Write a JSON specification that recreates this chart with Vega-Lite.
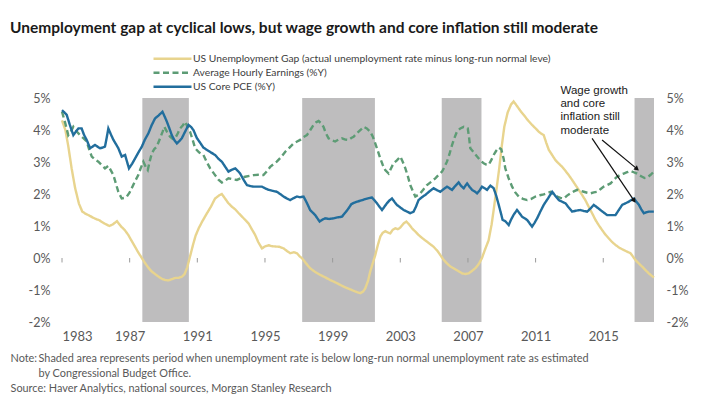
{
  "$schema": "https://vega.github.io/schema/vega-lite/v6.json",
  "width": 592,
  "height": 224,
  "autosize": {"type": "none"},
  "padding": {"left": 62, "top": 98, "right": 50, "bottom": 77},
  "background": "white",
  "title": {
    "text": "Unemployment gap at cyclical lows, but wage growth and core inflation still moderate",
    "anchor": "start",
    "frame": "group",
    "dx": -52,
    "offset": 16,
    "font": "Lato",
    "fontSize": 15.5,
    "fontWeight": "bold",
    "color": "#1a1a1a"
  },
  "config": {
    "view": {"stroke": null},
    "legend": {
      "orient": "none",
      "legendX": 90,
      "legendY": -46,
      "direction": "vertical",
      "symbolType": "stroke",
      "symbolSize": 1444,
      "symbolStrokeWidth": 2.5,
      "labelFont": "Lato",
      "labelFontSize": 10.3,
      "labelColor": "#404040",
      "labelOffset": 0,
      "rowPadding": 0,
      "clipHeight": 13.5,
      "title": null,
      "labelLimit": 500
    }
  },
  "datasets": {
    "bands": [
      {"s": 1987.75, "e": 1990.5},
      {"s": 1997.2, "e": 2001.5},
      {"s": 2005.45, "e": 2007.8},
      {"s": 2016.85, "e": 2018.0}
    ],
    "ticks": [
      {"t": 1983}, {"t": 1987}, {"t": 1991}, {"t": 1995}, {"t": 1999},
      {"t": 2003}, {"t": 2007}, {"t": 2011}, {"t": 2015}
    ],
    "arrows": [
      {"id": 1, "x": 2014.93, "y": 3.69, "x2": 2016.96, "y2": 2.8},
      {"id": 2, "x": 2014.34, "y": 3.74, "x2": 2016.8, "y2": 1.81}
    ],
    "note": [
      {"t": 2012.47, "v": 5.42, "txt": ["Wage growth", "and core", "inflation still", "moderate"]}
    ],
    "series": [
      {"s":"gap","t":1983.0,"v":4.3},{"s":"gap","t":1983.2,"v":4.0},{"s":"gap","t":1983.37,"v":3.5},{"s":"gap","t":1983.57,"v":2.8},
      {"s":"gap","t":1983.77,"v":2.2},{"s":"gap","t":1984.0,"v":1.7},{"s":"gap","t":1984.2,"v":1.45},{"s":"gap","t":1984.4,"v":1.38},
      {"s":"gap","t":1984.6,"v":1.33},{"s":"gap","t":1984.8,"v":1.27},{"s":"gap","t":1985.0,"v":1.22},{"s":"gap","t":1985.2,"v":1.18},
      {"s":"gap","t":1985.5,"v":1.08},{"s":"gap","t":1985.8,"v":1.0},{"s":"gap","t":1986.0,"v":1.05},{"s":"gap","t":1986.25,"v":1.15},
      {"s":"gap","t":1986.5,"v":0.98},{"s":"gap","t":1986.7,"v":0.88},{"s":"gap","t":1986.92,"v":0.72},{"s":"gap","t":1987.1,"v":0.55},
      {"s":"gap","t":1987.32,"v":0.35},{"s":"gap","t":1987.5,"v":0.18},{"s":"gap","t":1987.72,"v":0.0},{"s":"gap","t":1987.9,"v":-0.15},
      {"s":"gap","t":1988.1,"v":-0.3},{"s":"gap","t":1988.3,"v":-0.42},{"s":"gap","t":1988.5,"v":-0.5},{"s":"gap","t":1988.7,"v":-0.58},
      {"s":"gap","t":1988.9,"v":-0.65},{"s":"gap","t":1989.1,"v":-0.69},{"s":"gap","t":1989.3,"v":-0.7},{"s":"gap","t":1989.5,"v":-0.66},
      {"s":"gap","t":1989.7,"v":-0.62},{"s":"gap","t":1989.9,"v":-0.62},{"s":"gap","t":1990.1,"v":-0.58},{"s":"gap","t":1990.25,"v":-0.5},
      {"s":"gap","t":1990.4,"v":-0.3},{"s":"gap","t":1990.57,"v":0.05},{"s":"gap","t":1990.75,"v":0.42},{"s":"gap","t":1990.9,"v":0.7},
      {"s":"gap","t":1991.1,"v":0.95},{"s":"gap","t":1991.3,"v":1.15},{"s":"gap","t":1991.55,"v":1.38},{"s":"gap","t":1991.8,"v":1.6},
      {"s":"gap","t":1992.05,"v":1.86},{"s":"gap","t":1992.3,"v":1.96},{"s":"gap","t":1992.45,"v":2.0},{"s":"gap","t":1992.65,"v":1.85},
      {"s":"gap","t":1992.84,"v":1.71},{"s":"gap","t":1993.05,"v":1.6},{"s":"gap","t":1993.24,"v":1.52},{"s":"gap","t":1993.45,"v":1.4},
      {"s":"gap","t":1993.63,"v":1.3},{"s":"gap","t":1993.85,"v":1.18},{"s":"gap","t":1994.03,"v":1.08},{"s":"gap","t":1994.2,"v":0.92},
      {"s":"gap","t":1994.42,"v":0.72},{"s":"gap","t":1994.6,"v":0.5},{"s":"gap","t":1994.82,"v":0.3},{"s":"gap","t":1995.0,"v":0.36},
      {"s":"gap","t":1995.21,"v":0.4},{"s":"gap","t":1995.4,"v":0.37},{"s":"gap","t":1995.6,"v":0.36},{"s":"gap","t":1995.85,"v":0.35},
      {"s":"gap","t":1996.1,"v":0.3},{"s":"gap","t":1996.3,"v":0.22},{"s":"gap","t":1996.49,"v":0.15},{"s":"gap","t":1996.7,"v":0.18},
      {"s":"gap","t":1996.89,"v":0.15},{"s":"gap","t":1997.05,"v":0.05},{"s":"gap","t":1997.18,"v":0.0},{"s":"gap","t":1997.4,"v":-0.15},
      {"s":"gap","t":1997.67,"v":-0.32},{"s":"gap","t":1997.95,"v":-0.43},{"s":"gap","t":1998.27,"v":-0.53},{"s":"gap","t":1998.55,"v":-0.6},
      {"s":"gap","t":1998.86,"v":-0.69},{"s":"gap","t":1999.15,"v":-0.76},{"s":"gap","t":1999.45,"v":-0.84},{"s":"gap","t":1999.75,"v":-0.92},
      {"s":"gap","t":2000.04,"v":-0.98},{"s":"gap","t":2000.35,"v":-1.05},{"s":"gap","t":2000.63,"v":-1.1},{"s":"gap","t":2000.8,"v":-1.05},
      {"s":"gap","t":2000.93,"v":-0.95},{"s":"gap","t":2001.1,"v":-0.7},{"s":"gap","t":2001.22,"v":-0.43},{"s":"gap","t":2001.38,"v":-0.15},
      {"s":"gap","t":2001.52,"v":0.09},{"s":"gap","t":2001.67,"v":0.4},{"s":"gap","t":2001.82,"v":0.67},{"s":"gap","t":2001.95,"v":0.78},
      {"s":"gap","t":2002.11,"v":0.84},{"s":"gap","t":2002.25,"v":0.8},{"s":"gap","t":2002.41,"v":0.77},{"s":"gap","t":2002.55,"v":0.88},
      {"s":"gap","t":2002.7,"v":0.93},{"s":"gap","t":2002.85,"v":0.9},{"s":"gap","t":2003.0,"v":0.95},{"s":"gap","t":2003.2,"v":1.08},
      {"s":"gap","t":2003.36,"v":1.14},{"s":"gap","t":2003.52,"v":1.05},{"s":"gap","t":2003.69,"v":0.93},{"s":"gap","t":2003.9,"v":0.82},
      {"s":"gap","t":2004.08,"v":0.72},{"s":"gap","t":2004.3,"v":0.62},{"s":"gap","t":2004.58,"v":0.51},{"s":"gap","t":2004.8,"v":0.42},
      {"s":"gap","t":2004.97,"v":0.35},{"s":"gap","t":2005.2,"v":0.22},{"s":"gap","t":2005.37,"v":0.09},{"s":"gap","t":2005.55,"v":-0.05},
      {"s":"gap","t":2005.76,"v":-0.17},{"s":"gap","t":2005.95,"v":-0.26},{"s":"gap","t":2006.15,"v":-0.32},{"s":"gap","t":2006.4,"v":-0.4},
      {"s":"gap","t":2006.65,"v":-0.48},{"s":"gap","t":2006.85,"v":-0.5},{"s":"gap","t":2007.04,"v":-0.48},{"s":"gap","t":2007.25,"v":-0.4},
      {"s":"gap","t":2007.44,"v":-0.32},{"s":"gap","t":2007.65,"v":-0.18},{"s":"gap","t":2007.83,"v":0.0},{"s":"gap","t":2008.0,"v":0.25},
      {"s":"gap","t":2008.22,"v":0.55},{"s":"gap","t":2008.4,"v":1.05},{"s":"gap","t":2008.52,"v":1.5},{"s":"gap","t":2008.7,"v":2.2},
      {"s":"gap","t":2008.85,"v":2.8},{"s":"gap","t":2009.0,"v":3.5},{"s":"gap","t":2009.15,"v":4.1},{"s":"gap","t":2009.35,"v":4.55},
      {"s":"gap","t":2009.55,"v":4.8},{"s":"gap","t":2009.7,"v":4.89},{"s":"gap","t":2009.9,"v":4.75},{"s":"gap","t":2010.1,"v":4.6},
      {"s":"gap","t":2010.3,"v":4.47},{"s":"gap","t":2010.55,"v":4.3},{"s":"gap","t":2010.79,"v":4.16},{"s":"gap","t":2011.0,"v":4.05},
      {"s":"gap","t":2011.18,"v":3.95},{"s":"gap","t":2011.35,"v":3.88},{"s":"gap","t":2011.48,"v":3.84},{"s":"gap","t":2011.63,"v":3.6},
      {"s":"gap","t":2011.78,"v":3.38},{"s":"gap","t":2012.0,"v":3.2},{"s":"gap","t":2012.17,"v":3.06},{"s":"gap","t":2012.37,"v":2.95},
      {"s":"gap","t":2012.57,"v":2.85},{"s":"gap","t":2012.77,"v":2.72},{"s":"gap","t":2012.96,"v":2.59},{"s":"gap","t":2013.16,"v":2.44},
      {"s":"gap","t":2013.36,"v":2.28},{"s":"gap","t":2013.55,"v":2.13},{"s":"gap","t":2013.75,"v":1.97},{"s":"gap","t":2013.95,"v":1.8},
      {"s":"gap","t":2014.14,"v":1.6},{"s":"gap","t":2014.34,"v":1.4},{"s":"gap","t":2014.54,"v":1.19},{"s":"gap","t":2014.74,"v":1.02},
      {"s":"gap","t":2014.93,"v":0.875},{"s":"gap","t":2015.13,"v":0.73},{"s":"gap","t":2015.33,"v":0.61},{"s":"gap","t":2015.52,"v":0.5},
      {"s":"gap","t":2015.72,"v":0.41},{"s":"gap","t":2015.95,"v":0.32},{"s":"gap","t":2016.21,"v":0.25},{"s":"gap","t":2016.4,"v":0.2},
      {"s":"gap","t":2016.61,"v":0.15},{"s":"gap","t":2016.75,"v":0.05},{"s":"gap","t":2016.9,"v":-0.06},{"s":"gap","t":2017.1,"v":-0.17},
      {"s":"gap","t":2017.3,"v":-0.27},{"s":"gap","t":2017.5,"v":-0.38},{"s":"gap","t":2017.69,"v":-0.48},{"s":"gap","t":2017.85,"v":-0.55},
      {"s":"gap","t":2018.0,"v":-0.61},

      {"s":"ahe","t":1983.0,"v":4.57},{"s":"ahe","t":1983.2,"v":4.2},{"s":"ahe","t":1983.37,"v":3.84},{"s":"ahe","t":1983.52,"v":3.95},
      {"s":"ahe","t":1983.67,"v":4.1},{"s":"ahe","t":1983.87,"v":3.95},{"s":"ahe","t":1984.07,"v":3.84},{"s":"ahe","t":1984.25,"v":3.75},
      {"s":"ahe","t":1984.46,"v":3.64},{"s":"ahe","t":1984.6,"v":3.4},{"s":"ahe","t":1984.76,"v":3.17},{"s":"ahe","t":1984.95,"v":3.08},
      {"s":"ahe","t":1985.15,"v":3.01},{"s":"ahe","t":1985.35,"v":2.9},{"s":"ahe","t":1985.54,"v":2.8},{"s":"ahe","t":1985.74,"v":2.88},
      {"s":"ahe","t":1986.04,"v":2.59},{"s":"ahe","t":1986.2,"v":2.3},{"s":"ahe","t":1986.33,"v":2.07},{"s":"ahe","t":1986.53,"v":1.86},
      {"s":"ahe","t":1986.7,"v":1.88},{"s":"ahe","t":1986.83,"v":1.92},{"s":"ahe","t":1987.0,"v":2.05},{"s":"ahe","t":1987.12,"v":2.18},
      {"s":"ahe","t":1987.3,"v":2.38},{"s":"ahe","t":1987.51,"v":2.59},{"s":"ahe","t":1987.65,"v":2.8},{"s":"ahe","t":1987.81,"v":3.01},
      {"s":"ahe","t":1987.95,"v":2.85},{"s":"ahe","t":1988.07,"v":2.75},{"s":"ahe","t":1988.2,"v":3.05},{"s":"ahe","t":1988.31,"v":3.27},
      {"s":"ahe","t":1988.45,"v":3.4},{"s":"ahe","t":1988.6,"v":3.48},{"s":"ahe","t":1988.8,"v":3.74},{"s":"ahe","t":1988.95,"v":3.95},
      {"s":"ahe","t":1989.05,"v":4.1},{"s":"ahe","t":1989.2,"v":3.95},{"s":"ahe","t":1989.39,"v":3.79},{"s":"ahe","t":1989.55,"v":3.72},
      {"s":"ahe","t":1989.69,"v":3.74},{"s":"ahe","t":1989.85,"v":3.9},{"s":"ahe","t":1989.98,"v":4.05},{"s":"ahe","t":1990.15,"v":4.15},
      {"s":"ahe","t":1990.28,"v":4.26},{"s":"ahe","t":1990.42,"v":4.1},{"s":"ahe","t":1990.57,"v":3.95},{"s":"ahe","t":1990.72,"v":3.7},
      {"s":"ahe","t":1990.87,"v":3.43},{"s":"ahe","t":1991.1,"v":3.3},{"s":"ahe","t":1991.36,"v":3.22},{"s":"ahe","t":1991.56,"v":3.0},
      {"s":"ahe","t":1991.76,"v":2.8},{"s":"ahe","t":1992.05,"v":2.59},{"s":"ahe","t":1992.25,"v":2.45},{"s":"ahe","t":1992.45,"v":2.36},
      {"s":"ahe","t":1992.65,"v":2.42},{"s":"ahe","t":1992.84,"v":2.49},{"s":"ahe","t":1993.1,"v":2.46},{"s":"ahe","t":1993.34,"v":2.44},
      {"s":"ahe","t":1993.6,"v":2.5},{"s":"ahe","t":1993.83,"v":2.54},{"s":"ahe","t":1994.1,"v":2.57},{"s":"ahe","t":1994.32,"v":2.59},
      {"s":"ahe","t":1994.6,"v":2.6},{"s":"ahe","t":1994.91,"v":2.59},{"s":"ahe","t":1995.1,"v":2.7},{"s":"ahe","t":1995.31,"v":2.85},
      {"s":"ahe","t":1995.5,"v":2.93},{"s":"ahe","t":1995.7,"v":3.01},{"s":"ahe","t":1995.95,"v":3.15},{"s":"ahe","t":1996.2,"v":3.32},
      {"s":"ahe","t":1996.45,"v":3.45},{"s":"ahe","t":1996.69,"v":3.58},{"s":"ahe","t":1996.9,"v":3.64},{"s":"ahe","t":1997.08,"v":3.69},
      {"s":"ahe","t":1997.28,"v":3.78},{"s":"ahe","t":1997.48,"v":3.84},{"s":"ahe","t":1997.68,"v":4.0},{"s":"ahe","t":1997.87,"v":4.16},
      {"s":"ahe","t":1998.02,"v":4.24},{"s":"ahe","t":1998.17,"v":4.28},{"s":"ahe","t":1998.3,"v":4.22},{"s":"ahe","t":1998.46,"v":4.1},
      {"s":"ahe","t":1998.6,"v":3.9},{"s":"ahe","t":1998.76,"v":3.74},{"s":"ahe","t":1998.95,"v":3.68},{"s":"ahe","t":1999.15,"v":3.64},
      {"s":"ahe","t":1999.35,"v":3.7},{"s":"ahe","t":1999.55,"v":3.74},{"s":"ahe","t":1999.75,"v":3.7},{"s":"ahe","t":1999.94,"v":3.69},
      {"s":"ahe","t":2000.1,"v":3.75},{"s":"ahe","t":2000.24,"v":3.79},{"s":"ahe","t":2000.44,"v":3.9},{"s":"ahe","t":2000.65,"v":4.0},
      {"s":"ahe","t":2000.83,"v":4.1},{"s":"ahe","t":2001.02,"v":4.05},{"s":"ahe","t":2001.22,"v":3.95},{"s":"ahe","t":2001.37,"v":3.8},
      {"s":"ahe","t":2001.52,"v":3.58},{"s":"ahe","t":2001.67,"v":3.35},{"s":"ahe","t":2001.82,"v":3.11},{"s":"ahe","t":2001.97,"v":2.9},
      {"s":"ahe","t":2002.11,"v":2.75},{"s":"ahe","t":2002.31,"v":2.64},{"s":"ahe","t":2002.45,"v":2.8},{"s":"ahe","t":2002.6,"v":2.96},
      {"s":"ahe","t":2002.8,"v":3.05},{"s":"ahe","t":2003.0,"v":3.17},{"s":"ahe","t":2003.15,"v":3.0},{"s":"ahe","t":2003.3,"v":2.8},
      {"s":"ahe","t":2003.45,"v":2.55},{"s":"ahe","t":2003.59,"v":2.28},{"s":"ahe","t":2003.75,"v":2.08},{"s":"ahe","t":2003.89,"v":1.92},
      {"s":"ahe","t":2004.05,"v":1.97},{"s":"ahe","t":2004.18,"v":2.02},{"s":"ahe","t":2004.38,"v":2.15},{"s":"ahe","t":2004.58,"v":2.28},
      {"s":"ahe","t":2004.82,"v":2.38},{"s":"ahe","t":2005.07,"v":2.49},{"s":"ahe","t":2005.27,"v":2.6},{"s":"ahe","t":2005.47,"v":2.7},
      {"s":"ahe","t":2005.62,"v":2.85},{"s":"ahe","t":2005.76,"v":3.01},{"s":"ahe","t":2005.91,"v":3.25},{"s":"ahe","t":2006.06,"v":3.53},
      {"s":"ahe","t":2006.2,"v":3.75},{"s":"ahe","t":2006.35,"v":3.95},{"s":"ahe","t":2006.55,"v":4.05},{"s":"ahe","t":2006.75,"v":4.1},
      {"s":"ahe","t":2006.99,"v":4.05},{"s":"ahe","t":2007.07,"v":3.75},{"s":"ahe","t":2007.14,"v":3.43},{"s":"ahe","t":2007.35,"v":3.3},
      {"s":"ahe","t":2007.54,"v":3.17},{"s":"ahe","t":2007.73,"v":3.05},{"s":"ahe","t":2007.93,"v":2.96},{"s":"ahe","t":2008.08,"v":2.92},
      {"s":"ahe","t":2008.22,"v":2.91},{"s":"ahe","t":2008.37,"v":3.05},{"s":"ahe","t":2008.52,"v":3.22},{"s":"ahe","t":2008.67,"v":3.35},
      {"s":"ahe","t":2008.82,"v":3.45},{"s":"ahe","t":2008.97,"v":3.4},{"s":"ahe","t":2009.11,"v":3.1},{"s":"ahe","t":2009.21,"v":2.8},
      {"s":"ahe","t":2009.4,"v":2.5},{"s":"ahe","t":2009.61,"v":2.23},{"s":"ahe","t":2009.8,"v":2.05},{"s":"ahe","t":2010.0,"v":1.92},
      {"s":"ahe","t":2010.25,"v":1.85},{"s":"ahe","t":2010.5,"v":1.81},{"s":"ahe","t":2010.75,"v":1.85},{"s":"ahe","t":2010.99,"v":1.92},
      {"s":"ahe","t":2011.25,"v":1.96},{"s":"ahe","t":2011.48,"v":1.99},{"s":"ahe","t":2011.68,"v":2.03},{"s":"ahe","t":2011.88,"v":2.07},
      {"s":"ahe","t":2012.07,"v":2.0},{"s":"ahe","t":2012.27,"v":1.92},{"s":"ahe","t":2012.47,"v":1.88},{"s":"ahe","t":2012.67,"v":1.86},
      {"s":"ahe","t":2012.86,"v":1.95},{"s":"ahe","t":2013.06,"v":2.02},{"s":"ahe","t":2013.26,"v":2.08},{"s":"ahe","t":2013.46,"v":2.13},
      {"s":"ahe","t":2013.65,"v":2.1},{"s":"ahe","t":2013.85,"v":2.07},{"s":"ahe","t":2014.05,"v":2.04},{"s":"ahe","t":2014.24,"v":2.02},
      {"s":"ahe","t":2014.44,"v":2.05},{"s":"ahe","t":2014.64,"v":2.07},{"s":"ahe","t":2014.83,"v":2.15},{"s":"ahe","t":2015.03,"v":2.23},
      {"s":"ahe","t":2015.23,"v":2.28},{"s":"ahe","t":2015.43,"v":2.33},{"s":"ahe","t":2015.62,"v":2.44},{"s":"ahe","t":2015.82,"v":2.54},
      {"s":"ahe","t":2016.02,"v":2.6},{"s":"ahe","t":2016.21,"v":2.64},{"s":"ahe","t":2016.41,"v":2.68},{"s":"ahe","t":2016.61,"v":2.72},
      {"s":"ahe","t":2016.8,"v":2.68},{"s":"ahe","t":2017.0,"v":2.64},{"s":"ahe","t":2017.15,"v":2.58},{"s":"ahe","t":2017.3,"v":2.54},
      {"s":"ahe","t":2017.45,"v":2.5},{"s":"ahe","t":2017.59,"v":2.51},{"s":"ahe","t":2017.8,"v":2.6},{"s":"ahe","t":2017.99,"v":2.7},

      {"s":"pce","t":1983.0,"v":4.62},{"s":"pce","t":1983.14,"v":4.55},{"s":"pce","t":1983.28,"v":4.47},{"s":"pce","t":1983.47,"v":4.15},
      {"s":"pce","t":1983.67,"v":3.84},{"s":"pce","t":1983.82,"v":3.95},{"s":"pce","t":1983.97,"v":4.05},{"s":"pce","t":1984.16,"v":4.05},
      {"s":"pce","t":1984.3,"v":3.85},{"s":"pce","t":1984.46,"v":3.69},{"s":"pce","t":1984.66,"v":3.43},{"s":"pce","t":1984.8,"v":3.48},
      {"s":"pce","t":1984.95,"v":3.53},{"s":"pce","t":1985.1,"v":3.48},{"s":"pce","t":1985.25,"v":3.43},{"s":"pce","t":1985.4,"v":3.45},
      {"s":"pce","t":1985.54,"v":3.48},{"s":"pce","t":1985.64,"v":3.75},{"s":"pce","t":1985.74,"v":4.05},{"s":"pce","t":1985.9,"v":3.85},
      {"s":"pce","t":1986.04,"v":3.69},{"s":"pce","t":1986.2,"v":3.55},{"s":"pce","t":1986.33,"v":3.43},{"s":"pce","t":1986.53,"v":3.17},
      {"s":"pce","t":1986.73,"v":3.22},{"s":"pce","t":1986.85,"v":3.0},{"s":"pce","t":1986.96,"v":2.8},{"s":"pce","t":1987.15,"v":2.95},
      {"s":"pce","t":1987.32,"v":3.11},{"s":"pce","t":1987.52,"v":3.3},{"s":"pce","t":1987.72,"v":3.48},{"s":"pce","t":1987.9,"v":3.7},
      {"s":"pce","t":1988.11,"v":3.9},{"s":"pce","t":1988.3,"v":4.15},{"s":"pce","t":1988.5,"v":4.36},{"s":"pce","t":1988.7,"v":4.45},
      {"s":"pce","t":1988.94,"v":4.57},{"s":"pce","t":1989.07,"v":4.42},{"s":"pce","t":1989.2,"v":4.26},{"s":"pce","t":1989.35,"v":4.05},
      {"s":"pce","t":1989.49,"v":3.84},{"s":"pce","t":1989.65,"v":3.68},{"s":"pce","t":1989.79,"v":3.58},{"s":"pce","t":1989.95,"v":3.66},
      {"s":"pce","t":1990.08,"v":3.74},{"s":"pce","t":1990.28,"v":3.95},{"s":"pce","t":1990.48,"v":4.16},{"s":"pce","t":1990.62,"v":4.1},
      {"s":"pce","t":1990.77,"v":4.0},{"s":"pce","t":1990.97,"v":3.75},{"s":"pce","t":1991.17,"v":3.6},{"s":"pce","t":1991.36,"v":3.45},
      {"s":"pce","t":1991.56,"v":3.38},{"s":"pce","t":1991.8,"v":3.3},{"s":"pce","t":1992.05,"v":3.22},{"s":"pce","t":1992.25,"v":3.1},
      {"s":"pce","t":1992.45,"v":3.01},{"s":"pce","t":1992.65,"v":2.85},{"s":"pce","t":1992.84,"v":2.7},{"s":"pce","t":1993.05,"v":2.76},
      {"s":"pce","t":1993.24,"v":2.8},{"s":"pce","t":1993.4,"v":2.72},{"s":"pce","t":1993.53,"v":2.64},{"s":"pce","t":1993.73,"v":2.45},
      {"s":"pce","t":1993.93,"v":2.28},{"s":"pce","t":1994.12,"v":2.25},{"s":"pce","t":1994.32,"v":2.23},{"s":"pce","t":1994.57,"v":2.23},
      {"s":"pce","t":1994.82,"v":2.23},{"s":"pce","t":1995.0,"v":2.18},{"s":"pce","t":1995.21,"v":2.13},{"s":"pce","t":1995.45,"v":2.1},
      {"s":"pce","t":1995.7,"v":2.07},{"s":"pce","t":1995.9,"v":2.0},{"s":"pce","t":1996.1,"v":1.92},{"s":"pce","t":1996.3,"v":1.86},
      {"s":"pce","t":1996.49,"v":1.81},{"s":"pce","t":1996.69,"v":1.87},{"s":"pce","t":1996.89,"v":1.92},{"s":"pce","t":1997.08,"v":1.9},
      {"s":"pce","t":1997.28,"v":1.92},{"s":"pce","t":1997.48,"v":1.72},{"s":"pce","t":1997.67,"v":1.5},{"s":"pce","t":1997.82,"v":1.42},
      {"s":"pce","t":1997.97,"v":1.34},{"s":"pce","t":1998.1,"v":1.24},{"s":"pce","t":1998.23,"v":1.14},{"s":"pce","t":1998.4,"v":1.2},
      {"s":"pce","t":1998.56,"v":1.24},{"s":"pce","t":1998.8,"v":1.22},{"s":"pce","t":1999.05,"v":1.24},{"s":"pce","t":1999.3,"v":1.27},
      {"s":"pce","t":1999.55,"v":1.29},{"s":"pce","t":1999.75,"v":1.42},{"s":"pce","t":1999.94,"v":1.55},{"s":"pce","t":2000.1,"v":1.68},
      {"s":"pce","t":2000.24,"v":1.72},{"s":"pce","t":2000.44,"v":1.76},{"s":"pce","t":2000.7,"v":1.8},{"s":"pce","t":2000.93,"v":1.84},
      {"s":"pce","t":2001.13,"v":1.87},{"s":"pce","t":2001.33,"v":1.89},{"s":"pce","t":2001.48,"v":1.8},{"s":"pce","t":2001.62,"v":1.71},
      {"s":"pce","t":2001.77,"v":1.6},{"s":"pce","t":2001.92,"v":1.5},{"s":"pce","t":2002.06,"v":1.6},{"s":"pce","t":2002.21,"v":1.71},
      {"s":"pce","t":2002.36,"v":1.8},{"s":"pce","t":2002.51,"v":1.86},{"s":"pce","t":2002.65,"v":1.76},{"s":"pce","t":2002.8,"v":1.66},
      {"s":"pce","t":2003.0,"v":1.58},{"s":"pce","t":2003.2,"v":1.5},{"s":"pce","t":2003.4,"v":1.45},{"s":"pce","t":2003.59,"v":1.4},
      {"s":"pce","t":2003.79,"v":1.45},{"s":"pce","t":2003.94,"v":1.62},{"s":"pce","t":2004.08,"v":1.81},{"s":"pce","t":2004.28,"v":1.9},
      {"s":"pce","t":2004.48,"v":1.97},{"s":"pce","t":2004.72,"v":2.08},{"s":"pce","t":2004.97,"v":2.18},{"s":"pce","t":2005.17,"v":2.12},
      {"s":"pce","t":2005.37,"v":2.07},{"s":"pce","t":2005.56,"v":2.15},{"s":"pce","t":2005.76,"v":2.23},{"s":"pce","t":2005.91,"v":2.18},
      {"s":"pce","t":2006.06,"v":2.13},{"s":"pce","t":2006.25,"v":2.25},{"s":"pce","t":2006.45,"v":2.36},{"s":"pce","t":2006.6,"v":2.25},
      {"s":"pce","t":2006.75,"v":2.18},{"s":"pce","t":2006.85,"v":2.26},{"s":"pce","t":2006.95,"v":2.33},{"s":"pce","t":2007.1,"v":2.22},
      {"s":"pce","t":2007.24,"v":2.13},{"s":"pce","t":2007.4,"v":2.08},{"s":"pce","t":2007.54,"v":2.02},{"s":"pce","t":2007.7,"v":2.12},
      {"s":"pce","t":2007.83,"v":2.23},{"s":"pce","t":2007.98,"v":2.18},{"s":"pce","t":2008.13,"v":2.13},{"s":"pce","t":2008.23,"v":2.2},
      {"s":"pce","t":2008.33,"v":2.26},{"s":"pce","t":2008.43,"v":2.22},{"s":"pce","t":2008.52,"v":2.18},{"s":"pce","t":2008.67,"v":1.95},
      {"s":"pce","t":2008.82,"v":1.66},{"s":"pce","t":2008.95,"v":1.4},{"s":"pce","t":2009.05,"v":1.19},{"s":"pce","t":2009.21,"v":1.15},
      {"s":"pce","t":2009.41,"v":1.03},{"s":"pce","t":2009.55,"v":1.2},{"s":"pce","t":2009.7,"v":1.35},{"s":"pce","t":2009.9,"v":1.5},
      {"s":"pce","t":2010.05,"v":1.4},{"s":"pce","t":2010.2,"v":1.29},{"s":"pce","t":2010.35,"v":1.24},{"s":"pce","t":2010.5,"v":1.19},
      {"s":"pce","t":2010.65,"v":1.08},{"s":"pce","t":2010.79,"v":0.98},{"s":"pce","t":2010.94,"v":1.1},{"s":"pce","t":2011.09,"v":1.24},
      {"s":"pce","t":2011.28,"v":1.45},{"s":"pce","t":2011.48,"v":1.66},{"s":"pce","t":2011.73,"v":1.86},{"s":"pce","t":2011.98,"v":2.07},
      {"s":"pce","t":2012.17,"v":1.94},{"s":"pce","t":2012.37,"v":1.81},{"s":"pce","t":2012.56,"v":1.76},{"s":"pce","t":2012.76,"v":1.71},
      {"s":"pce","t":2012.96,"v":1.58},{"s":"pce","t":2013.16,"v":1.45},{"s":"pce","t":2013.4,"v":1.48},{"s":"pce","t":2013.65,"v":1.5},
      {"s":"pce","t":2013.85,"v":1.47},{"s":"pce","t":2014.05,"v":1.45},{"s":"pce","t":2014.25,"v":1.55},{"s":"pce","t":2014.44,"v":1.66},
      {"s":"pce","t":2014.64,"v":1.58},{"s":"pce","t":2014.83,"v":1.5},{"s":"pce","t":2015.03,"v":1.42},{"s":"pce","t":2015.23,"v":1.34},
      {"s":"pce","t":2015.47,"v":1.34},{"s":"pce","t":2015.72,"v":1.34},{"s":"pce","t":2015.92,"v":1.5},{"s":"pce","t":2016.12,"v":1.66},
      {"s":"pce","t":2016.32,"v":1.71},{"s":"pce","t":2016.51,"v":1.76},{"s":"pce","t":2016.66,"v":1.81},{"s":"pce","t":2016.81,"v":1.86},
      {"s":"pce","t":2016.96,"v":1.76},{"s":"pce","t":2017.11,"v":1.66},{"s":"pce","t":2017.25,"v":1.52},{"s":"pce","t":2017.4,"v":1.4},
      {"s":"pce","t":2017.55,"v":1.43},{"s":"pce","t":2017.69,"v":1.45},{"s":"pce","t":2017.85,"v":1.45},{"s":"pce","t":2017.99,"v":1.45}
    ]
  },
  "resolve": {"axis": {"y": "independent"}},
  "layer": [
    {
      "data": {"name": "bands"},
      "mark": {"type": "rect", "color": "#bebdbe"},
      "encoding": {
        "x": {
          "field": "s", "type": "quantitative",
          "scale": {"domain": [1983, 2018], "nice": false, "zero": false},
          "axis": {
            "values": [1983, 1987, 1991, 1995, 1999, 2003, 2007, 2011, 2015],
            "format": "d",
            "domain": false, "ticks": false, "grid": false,
            "labelPadding": 8,
            "labelFont": "Lato",
            "labelFontSize": 13,
            "labelColor": "#595959",
            "title": [
              "Shaded area represents period when unemployment rate is below long-run normal unemployment rate as estimated",
              "by Congressional Budget Office."
            ],
            "titleX": -24,
            "titleY": 39,
            "titleAlign": "left",
            "titleAnchor": "start",
            "titleBaseline": "alphabetic",
            "titleFont": "Lato",
            "titleFontSize": 10.9,
            "titleFontWeight": "normal",
            "titleColor": "#595959",
            "titleLineHeight": 15
          }
        },
        "x2": {"field": "e"}
      }
    },
    {
      "mark": {"type": "rule", "color": "#9a9a9a", "strokeWidth": 1.5},
      "encoding": {
        "y": {"datum": 0, "type": "quantitative", "scale": {"domain": [-2, 5], "nice": false, "zero": false}, "axis": null}
      }
    },
    {
      "data": {"name": "ticks"},
      "mark": {"type": "rule", "color": "#9a9a9a", "strokeWidth": 1},
      "encoding": {
        "x": {"field": "t", "type": "quantitative", "scale": {"domain": [1983, 2018], "nice": false, "zero": false}},
        "y": {"datum": 0, "type": "quantitative", "scale": {"domain": [-2, 5], "nice": false, "zero": false}, "axis": null},
        "y2": {"datum": -0.14}
      }
    },
    {
      "data": {"name": "series"},
      "mark": {"type": "line", "strokeWidth": 2.4, "interpolate": "linear"},
      "encoding": {
        "x": {"field": "t", "type": "quantitative", "scale": {"domain": [1983, 2018], "nice": false, "zero": false}},
        "y": {
          "field": "v", "type": "quantitative",
          "scale": {"domain": [-2, 5], "nice": false, "zero": false},
          "axis": {
            "orient": "left",
            "values": [-2, -1, 0, 1, 2, 3, 4, 5],
            "labelExpr": "datum.value + '%'",
            "domain": false, "ticks": false, "grid": false,
            "labelPadding": 12,
            "labelFont": "Lato",
            "labelFontSize": 12.5,
            "labelColor": "#595959",
            "title": ["Note:", "Source: Haver Analytics, national sources, Morgan Stanley Research"],
            "titleAngle": 0,
            "titleX": -52,
            "titleY": 263,
            "titleAlign": "left",
            "titleAnchor": "start",
            "titleBaseline": "alphabetic",
            "titleFont": "Lato",
            "titleFontSize": 10.9,
            "titleFontWeight": "normal",
            "titleColor": "#595959",
            "titleLineHeight": 30
          }
        },
        "color": {
          "field": "s", "type": "nominal",
          "scale": {"domain": ["gap", "ahe", "pce"], "range": ["#e8d48e", "#5d9c75", "#226e9d"]},
          "legend": {
            "labelExpr": "datum.label == 'gap' ? 'US Unemployment Gap (actual unemployment rate minus long-run normal leve)' : datum.label == 'ahe' ? 'Average Hourly Earnings (%Y)' : 'US Core PCE (%Y)'"
          }
        },
        "strokeDash": {
          "field": "s", "type": "nominal",
          "scale": {"domain": ["gap", "ahe", "pce"], "range": [[1, 0], [6, 3.5], [1, 0]]},
          "legend": {
            "labelExpr": "datum.label == 'gap' ? 'US Unemployment Gap (actual unemployment rate minus long-run normal leve)' : datum.label == 'ahe' ? 'Average Hourly Earnings (%Y)' : 'US Core PCE (%Y)'"
          }
        }
      }
    },
    {
      "data": {"name": "arrows"},
      "mark": {"type": "rule", "color": "#111111", "strokeWidth": 1.2},
      "encoding": {
        "x": {"field": "x", "type": "quantitative", "scale": {"domain": [1983, 2018], "nice": false, "zero": false}},
        "y": {
          "field": "y", "type": "quantitative",
          "scale": {"domain": [-2, 5], "nice": false, "zero": false},
          "axis": {
            "orient": "right",
            "values": [-2, -1, 0, 1, 2, 3, 4, 5],
            "labelExpr": "datum.value + '%'",
            "domain": false, "ticks": false, "grid": false,
            "labelPadding": 12,
            "labelFont": "Lato",
            "labelFontSize": 12.5,
            "labelColor": "#595959",
            "title": null
          }
        },
        "x2": {"field": "x2"},
        "y2": {"field": "y2"}
      }
    },
    {
      "data": {"name": "arrows"},
      "transform": [{"filter": "datum.id == 1"}],
      "mark": {"type": "point", "shape": "triangle", "filled": true, "color": "#111111", "size": 30, "angle": 129.5, "opacity": 1},
      "encoding": {
        "x": {"field": "x2", "type": "quantitative", "scale": {"domain": [1983, 2018], "nice": false, "zero": false}},
        "y": {"field": "y2", "type": "quantitative", "scale": {"domain": [-2, 5], "nice": false, "zero": false}, "axis": null}
      }
    },
    {
      "data": {"name": "arrows"},
      "transform": [{"filter": "datum.id == 2"}],
      "mark": {"type": "point", "shape": "triangle", "filled": true, "color": "#111111", "size": 30, "angle": 146, "opacity": 1},
      "encoding": {
        "x": {"field": "x2", "type": "quantitative", "scale": {"domain": [1983, 2018], "nice": false, "zero": false}},
        "y": {"field": "y2", "type": "quantitative", "scale": {"domain": [-2, 5], "nice": false, "zero": false}, "axis": null}
      }
    },
    {
      "data": {"name": "note"},
      "mark": {"type": "text", "align": "left", "baseline": "top", "font": "Liberation Sans", "fontSize": 11.5, "lineHeight": 13.4, "color": "#1a1a1a"},
      "encoding": {
        "x": {"field": "t", "type": "quantitative", "scale": {"domain": [1983, 2018], "nice": false, "zero": false}},
        "y": {"field": "v", "type": "quantitative", "scale": {"domain": [-2, 5], "nice": false, "zero": false}, "axis": null},
        "text": {"field": "txt"}
      }
    }
  ]
}
